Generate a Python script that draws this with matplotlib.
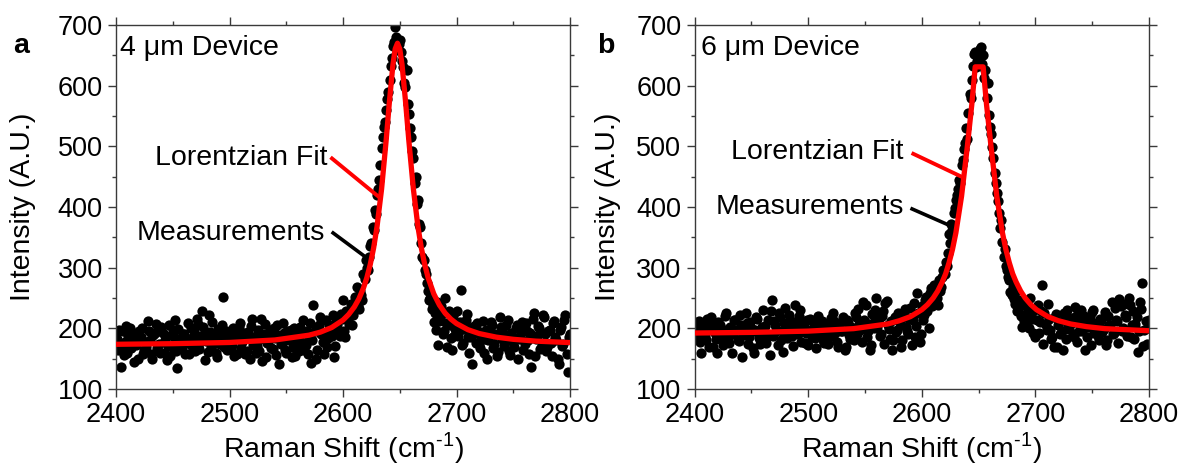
import numpy as np
import matplotlib
matplotlib.use("Agg")
import matplotlib.pyplot as plt
from matplotlib.ticker import MultipleLocator

plt.rcParams['font.family'] = ['Liberation Sans', 'DejaVu Sans']
plt.rcParams['mathtext.fontset'] = 'custom'
plt.rcParams['mathtext.rm'] = 'Liberation Sans'

# ---------------- data ----------------
# measurements on the even grid 2400..2800 (step 2)
x_even = np.arange(2400, 2801, 2)
meas_a_even = [
    190, 165, 137, 195, 178, 160, 200, 183, 145, 172,   # 2400
    196, 186, 158, 170, 212, 181, 149, 193, 168, 175,   # 2420
    203, 160, 188, 171, 155, 198, 213, 134, 182, 166,   # 2440
    190, 176, 158, 200, 185, 163, 207, 178, 228, 148,   # 2460
    192, 222, 170, 186, 159, 199, 174, 251, 181, 165,   # 2480
    196, 172, 154, 189, 203, 168, 180, 158, 194, 150,   # 2500
    216, 185, 171, 163, 216, 190, 152, 178, 197, 166,   # 2520
    184, 206, 141, 175, 192, 160, 181, 198, 170, 155,   # 2540
    187, 203, 176, 165, 195, 184, 143, 238, 149, 200,   # 2560
    219, 178, 192, 170, 206, 188, 153, 210, 198, 224,   # 2580
    247, 186, 215, 230, 205, 241, 268, 232, 255, 290,   # 2600
    313, 296, 335, 367, 395, 420, 445, 497, 532, 560,   # 2620
    590, 632, 665, 697, 660, 675, 640, 605, 626, 554,   # 2640
    516, 480, 450, 411, 367, 318, 296, 275, 247, 232,   # 2660
    210, 198, 172, 236, 190, 250, 169, 205, 165, 188,   # 2680
    228, 195, 263, 176, 214, 185, 200, 142, 192, 208,   # 2700
    175, 187, 160, 198, 181, 210, 168, 190, 155, 219,   # 2720
    183, 171, 205, 162, 193, 178, 200, 150, 186, 211,   # 2740
    174, 196, 158, 136, 225, 182, 204, 166, 222, 190,   # 2760
    170, 197, 155, 212, 180, 142, 203, 175, 222, 128,   # 2780
    190,                                                # 2800
]
# measurements on the odd grid 2401..2799 (step 2)
x_odd = np.arange(2401, 2800, 2)
meas_a_odd = [
    182, 198, 171, 156, 204, 188, 167, 192, 176, 150,   # 2401
    185, 201, 164, 177, 195, 158, 189, 207, 172, 160,   # 2421
    193, 180, 147, 205, 169, 186, 162, 199, 175, 190,   # 2441
    157, 208, 182, 171, 196, 215, 166, 188, 203, 179,   # 2461
    161, 194, 210, 176, 152, 188, 205, 170, 195, 183,   # 2481
    166, 200, 185, 158, 209, 177, 193, 163, 186, 204,   # 2501
    172, 160, 198, 183, 146, 207, 176, 190, 168, 201,   # 2521
    156, 189, 174, 208, 165, 195, 183, 152, 200, 178,   # 2541
    162, 191, 214, 172, 157, 208, 180, 196, 165, 206,   # 2561
    190, 158, 213, 184, 199, 222, 171, 205, 188, 216,   # 2581
    196, 228, 207, 240, 222, 252, 236, 262, 247, 281,   # 2601
    300, 318, 340, 362, 388, 430, 470, 515, 540, 578,   # 2621
    610, 645, 672, 680, 668, 655, 630, 598, 570, 530,   # 2641
    492, 440, 405, 372, 340, 312, 290, 262, 250, 238,   # 2661
    226, 244, 212, 224, 196, 208, 228, 184, 220, 199,   # 2681
    188, 210, 172, 199, 223, 160, 185, 204, 176, 195,   # 2701
    168, 212, 183, 150, 197, 206, 174, 189, 161, 202,   # 2721
    193, 177, 214, 156, 188, 170, 205, 183, 196, 164,   # 2741
    208, 180, 192, 215, 154, 187, 200, 172, 218, 163,   # 2761
    195, 176, 209, 185, 150, 198, 171, 214, 158, 186,   # 2781
]
fit_a_x = [2400, 2450, 2500, 2540, 2570, 2580, 2590, 2600, 2605, 2610, 2614,
           2618, 2621, 2624, 2627, 2630, 2634, 2638, 2641, 2644, 2646, 2648,
           2650, 2652, 2655, 2658, 2662, 2666, 2669, 2672, 2675, 2680, 2685,
           2690, 2695, 2700, 2710, 2720, 2735, 2750, 2770, 2800]
fit_a_y = [173.7, 174.7, 176.7, 180.8, 188.7, 193.7, 201.3, 213.6, 222.9,
           235.3, 248.6, 266.3, 283.4, 305.2, 332.6, 368, 429.8, 509.4, 575.9,
           634.8, 660.7, 670, 660.7, 634.8, 575.9, 509.4, 429.8, 368, 332.6,
           305.2, 283.4, 256.8, 238.3, 225, 215.3, 207.9, 197.8, 191.4, 185.5,
           181.9, 178.9, 176.5]

# Panel b (6 um device)
meas_b_even = [
    205, 188, 212, 159, 196, 180, 208, 219, 170, 193,   # 2400
    159, 205, 184, 198, 226, 176, 201, 190, 214, 181,   # 2420
    222, 153, 196, 209, 185, 200, 159, 218, 192, 175,   # 2440
    230, 204, 186, 156, 247, 212, 195, 225, 180, 161,   # 2460
    233, 199, 214, 187, 239, 203, 220, 178, 209, 193,   # 2480
    172, 215, 198, 184, 207, 190, 212, 176, 199, 186,   # 2500
    217, 225, 193, 170, 208, 196, 164, 213, 189, 202,   # 2520
    181, 219, 232, 197, 244, 210, 186, 165, 224, 201,   # 2540
    250, 215, 190, 228, 242, 206, 183, 164, 219, 197,   # 2560
    212, 170, 226, 203, 190, 233, 214, 185, 258, 178,   # 2580
    236, 222, 252, 200, 266, 244, 268, 238, 262, 284,   # 2600
    290, 302, 356, 372, 390, 412, 430, 440, 478, 505,   # 2620
    512, 587, 610, 653, 630, 645, 664, 650, 626, 605,   # 2640
    532, 499, 456, 423, 390, 378, 318, 302, 285, 260,   # 2660
    268, 240, 228, 246, 202, 212, 236, 200, 222, 192,   # 2680
    186, 238, 210, 271, 226, 198, 215, 183, 170, 224,   # 2700
    205, 190, 164, 217, 231, 199, 208, 185, 220, 196,   # 2720
    230, 211, 164, 202, 218, 227, 193, 208, 181, 214,   # 2740
    199, 172, 221, 206, 190, 233, 212, 249, 196, 240,   # 2760
    218, 250, 185, 228, 207, 161, 243, 274, 198, 175,   # 2780
    213,                                                # 2800
]
meas_b_odd = [
    196, 210, 178, 202, 188, 215, 170, 199, 207, 183,   # 2401
    211, 194, 172, 220, 186, 203, 160, 214, 197, 179,   # 2421
    205, 189, 226, 175, 210, 168, 198, 216, 184, 202,   # 2441
    192, 176, 213, 229, 188, 205, 172, 219, 196, 208,   # 2461
    184, 222, 199, 171, 211, 190, 230, 203, 176, 214,   # 2481
    197, 185, 209, 168, 221, 192, 180, 206, 174, 200,   # 2501
    188, 212, 177, 203, 195, 219, 170, 208, 183, 199,   # 2521
    226, 191, 207, 178, 213, 238, 196, 172, 209, 231,   # 2541
    203, 187, 221, 174, 245, 199, 212, 181, 194, 226,   # 2561
    208, 180, 232, 196, 215, 172, 242, 204, 226, 190,   # 2581
    214, 246, 228, 258, 236, 272, 250, 280, 268, 296,   # 2601
    310, 324, 340, 362, 398, 420, 445, 470, 495, 530,   # 2621
    555, 580, 632, 655, 640, 660, 635, 612, 580, 552,   # 2641
    520, 480, 440, 410, 365, 342, 330, 296, 280, 255,   # 2661
    248, 262, 232, 220, 240, 208, 226, 250, 215, 230,   # 2681
    214, 192, 228, 175, 205, 240, 198, 186, 219, 170,   # 2701
    210, 196, 225, 182, 203, 217, 190, 235, 178, 207,   # 2721
    195, 221, 186, 209, 172, 230, 201, 188, 216, 194,   # 2741
    227, 180, 205, 243, 192, 214, 176, 236, 201, 222,   # 2761
    188, 238, 206, 182, 219, 196, 232, 171, 212, 200,   # 2781
]
fit_b_x = [2400, 2450, 2500, 2540, 2570, 2580, 2590, 2600, 2605, 2610, 2614,
           2618, 2621, 2624, 2627, 2630, 2635, 2640, 2644, 2647, 2654, 2657,
           2661, 2666, 2671, 2674, 2677, 2680, 2683, 2687, 2691, 2696, 2701,
           2711, 2720, 2731, 2745, 2761, 2800]
fit_b_y = [192.3, 193.3, 195.4, 199.5, 207.2, 212.4, 219.3, 230.7, 239, 249.9,
           261.5, 276.5, 290, 308.3, 330, 357.4, 417.8, 498.5, 568.5, 631, 631,
           568.5, 498.5, 417.8, 357.4, 330, 308.3, 290, 276.5, 261.5, 249.9,
           239, 230.7, 219.3, 212.7, 207.2, 202.8, 199.5, 196]

x_ticks = [2400, 2500, 2600, 2700, 2800]
y_ticks = [100, 200, 300, 400, 500, 600, 700]

# ---------------- figure ----------------
W, H = 1181, 466
fig = plt.figure(figsize=(W / 100, H / 100), dpi=100)
ax_a = fig.add_axes([116 / W, 1 - 389 / H, 454 / W, 364 / H])
ax_b = fig.add_axes([694.6 / W, 1 - 389 / H, 454.4 / W, 364 / H])

SPINE = '#3a3a3a'
FS_TICK = 19.5
FS_TXT = 20.5


def style(ax, ylab_x):
    ax.set_xlim(2400, 2800)
    ax.set_ylim(100, 700)
    ax.set_xticks(x_ticks)
    ax.set_yticks(y_ticks)
    ax.xaxis.set_minor_locator(MultipleLocator(50))
    ax.yaxis.set_minor_locator(MultipleLocator(50))
    ax.tick_params(which='both', direction='out', top=True, right=True,
                   labeltop=False, labelright=False, color=SPINE, width=1.0)
    ax.tick_params(which='major', length=5.5, labelsize=FS_TICK, pad=4)
    ax.tick_params(which='minor', length=3)
    for s in ax.spines.values():
        s.set_color(SPINE)
        s.set_linewidth(1.0)
    ax.set_xlabel('Raman Shift (cm$^{\\text{-1}}$)', fontsize=FS_TXT)
    ax.set_ylabel('Intensity (A.U.)', fontsize=FS_TXT)
    ax.xaxis.set_label_coords(0.5, -0.114)
    ax.yaxis.set_label_coords(ylab_x, 0.5)


def draw(ax, ye, yo, fx, fy):
    ax.plot(x_even, ye, 'o', color='black', ms=7.4, mew=0, zorder=2)
    ax.plot(x_odd, yo, 'o', color='black', ms=7.4, mew=0, zorder=2)
    ax.plot(fx, fy, color='#ff0000', lw=3.8, zorder=3,
            solid_joinstyle='round', solid_capstyle='butt')


draw(ax_a, meas_a_even, meas_a_odd, fit_a_x, fit_a_y)
draw(ax_b, meas_b_even, meas_b_odd, fit_b_x, fit_b_y)
style(ax_a, -0.177)
style(ax_b, -0.162)

# annotations
ax_a.plot([2589, 2632], [482, 416], color='#ff0000', lw=2.8, zorder=4,
          solid_capstyle='butt')
ax_a.plot([2590, 2621], [359, 316], color='black', lw=2.6, zorder=4,
          solid_capstyle='butt')
ax_a.text(2586, 481, 'Lorentzian Fit', fontsize=FS_TXT, ha='right', va='center')
ax_a.text(2584, 357, 'Measurements', fontsize=FS_TXT, ha='right', va='center')

ax_b.plot([2591, 2636], [489, 449], color='#ff0000', lw=2.8, zorder=4,
          solid_capstyle='butt')
ax_b.plot([2590, 2624], [398, 370], color='black', lw=2.6, zorder=4,
          solid_capstyle='butt')
ax_b.text(2584, 490, 'Lorentzian Fit', fontsize=FS_TXT, ha='right', va='center')
ax_b.text(2584, 400, 'Measurements', fontsize=FS_TXT, ha='right', va='center')

ax_a.text(0.009, 0.918, '4 μm Device', transform=ax_a.transAxes,
          fontsize=FS_TXT, ha='left', va='baseline')
ax_b.text(0.014, 0.918, '6 μm Device', transform=ax_b.transAxes,
          fontsize=FS_TXT, ha='left', va='baseline')

fig.text(13 / W, 1 - 53 / H, 'a', fontsize=FS_TXT, fontweight='bold',
         ha='left', va='baseline')
fig.text(597 / W, 1 - 53 / H, 'b', fontsize=FS_TXT, fontweight='bold',
         ha='left', va='baseline')

fig.savefig('out.png', dpi=100)
